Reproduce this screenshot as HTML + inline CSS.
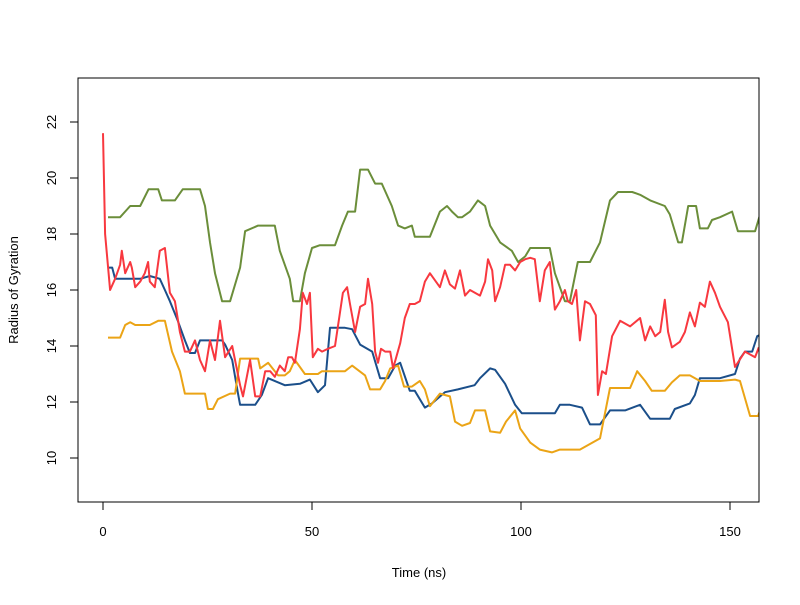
<!DOCTYPE html>
<html><head><meta charset="utf-8"><style>
body{margin:0;background:#fff}
svg text{font-family:"Liberation Sans",sans-serif;font-size:13px;fill:#000}
</style></head><body>
<svg id="chart" width="800" height="600" xmlns="http://www.w3.org/2000/svg">
<rect width="800" height="600" fill="#fff"/>
<g id="plot"></g>
</svg>
<script>
const xTicks=[0,50,100,150];
const yTicks=[10,12,14,16,18,20,22];
const greenSeries=[[1.2,18.6],[4.1,18.6],[6.5,19.0],[8.9,19.0],[10.9,19.6],[13.2,19.6],[14.1,19.2],[17.2,19.2],[19.1,19.6],[23.2,19.6],[24.4,19.0],[25.6,17.7],[26.8,16.6],[28.5,15.6],[30.4,15.6],[32.8,16.8],[34.0,18.1],[37.1,18.3],[41.1,18.3],[42.3,17.4],[44.7,16.4],[45.5,15.6],[47.1,15.6],[48.3,16.6],[50.0,17.5],[51.9,17.6],[55.5,17.6],[57.2,18.3],[58.6,18.8],[60.3,18.8],[61.5,20.3],[63.4,20.3],[65.1,19.8],[66.7,19.8],[69.1,19.0],[70.6,18.3],[72.2,18.2],[73.9,18.3],[74.6,17.9],[78.2,17.9],[80.6,18.8],[82.3,19.0],[83.5,18.8],[84.9,18.6],[85.9,18.6],[87.8,18.8],[89.7,19.2],[91.4,19.0],[92.6,18.3],[95.0,17.7],[97.8,17.4],[99.3,17.0],[101.0,17.2],[102.2,17.5],[106.9,17.5],[108.1,16.6],[110.5,15.6],[111.7,15.6],[113.6,17.0],[116.5,17.0],[118.9,17.7],[121.3,19.2],[123.2,19.5],[126.6,19.5],[128.5,19.4],[130.9,19.2],[134.4,19.0],[135.6,18.7],[137.6,17.7],[138.5,17.7],[140.0,19.0],[141.9,19.0],[142.8,18.2],[144.7,18.2],[145.7,18.5],[147.6,18.6],[150.5,18.8],[151.9,18.1],[156.0,18.1],[157.2,18.7]];
const blueSeries=[[1.2,16.8],[2.2,16.8],[2.9,16.4],[8.9,16.4],[11.2,16.5],[13.6,16.4],[14.8,16.0],[16.0,15.6],[17.9,14.9],[19.6,14.2],[20.8,13.75],[22.0,13.75],[23.2,14.2],[28.5,14.2],[29.2,14.05],[30.9,13.5],[32.3,12.3],[32.8,11.9],[36.4,11.9],[38.0,12.25],[39.5,12.85],[43.5,12.6],[47.1,12.65],[49.5,12.8],[51.4,12.35],[53.1,12.6],[54.3,14.65],[57.9,14.65],[59.6,14.6],[61.5,14.05],[64.4,13.8],[66.3,12.85],[68.2,12.85],[69.9,13.3],[71.1,13.4],[73.4,12.4],[74.6,12.4],[77.0,11.8],[78.7,11.95],[81.8,12.35],[84.9,12.45],[88.9,12.6],[90.2,12.85],[92.6,13.2],[93.8,13.15],[96.2,12.65],[98.6,11.9],[100.2,11.6],[104.5,11.6],[108.1,11.6],[109.3,11.9],[111.7,11.9],[114.6,11.8],[116.5,11.2],[118.9,11.2],[121.3,11.7],[124.9,11.7],[128.5,11.9],[130.9,11.4],[135.6,11.4],[136.8,11.75],[140.4,11.95],[141.6,12.25],[142.8,12.85],[147.6,12.85],[151.2,13.0],[152.4,13.55],[153.6,13.8],[155.3,13.8],[156.5,14.35],[157.2,14.4]];
const orangeSeries=[[1.2,14.3],[4.1,14.3],[5.3,14.75],[6.5,14.85],[7.7,14.75],[11.2,14.75],[13.2,14.9],[14.8,14.9],[16.5,13.8],[18.4,13.1],[19.6,12.3],[24.4,12.3],[25.1,11.75],[26.3,11.75],[27.5,12.1],[30.4,12.3],[31.6,12.3],[32.8,13.55],[37.1,13.55],[37.6,13.2],[39.5,13.4],[41.9,12.95],[43.5,12.95],[44.7,13.1],[45.9,13.5],[48.3,13.0],[51.4,13.0],[52.4,13.1],[57.9,13.1],[59.6,13.3],[62.7,12.95],[63.9,12.45],[66.3,12.45],[67.5,12.75],[68.7,13.2],[70.6,13.3],[72.0,12.55],[73.9,12.55],[75.8,12.75],[77.0,12.45],[78.2,11.85],[80.6,12.3],[83.0,12.2],[84.2,11.3],[85.9,11.15],[87.8,11.25],[89.0,11.7],[91.4,11.7],[92.6,10.95],[95.0,10.9],[96.4,11.3],[98.6,11.7],[99.8,11.05],[102.2,10.55],[104.5,10.3],[107.4,10.2],[109.3,10.3],[114.1,10.3],[118.9,10.7],[121.3,12.5],[126.1,12.5],[127.8,13.1],[129.7,12.75],[131.3,12.4],[134.4,12.4],[136.1,12.7],[138.0,12.95],[140.4,12.95],[142.8,12.75],[147.6,12.75],[151.2,12.8],[152.4,12.75],[154.8,11.5],[156.7,11.5],[157.2,11.7]];
const redSeries=[[0,21.6],[0.5,18.0],[1.7,16.0],[2.9,16.4],[4.1,16.9],[4.5,17.4],[5.3,16.6],[6.5,17.0],[6.9,16.8],[7.7,16.1],[8.9,16.3],[10.0,16.6],[10.8,17.0],[11.2,16.3],[12.4,16.1],[13.6,17.4],[14.8,17.5],[16.0,15.9],[17.2,15.6],[18.4,14.5],[19.6,13.8],[20.8,13.8],[22.0,14.2],[23.2,13.5],[24.4,13.1],[25.6,14.2],[26.8,13.5],[28.0,14.9],[29.2,13.6],[30.9,14.0],[32.8,12.6],[33.5,12.2],[35.2,13.5],[36.4,12.2],[37.6,12.2],[38.8,13.1],[40.0,13.1],[41.1,12.9],[42.3,13.3],[43.5,13.1],[44.3,13.6],[45.2,13.6],[45.9,13.4],[47.1,14.6],[47.8,15.9],[48.8,15.5],[49.5,15.9],[50.2,13.6],[51.4,13.9],[52.4,13.8],[53.8,13.9],[55.5,14.0],[56.7,15.2],[57.4,15.9],[58.4,16.1],[59.1,15.5],[60.3,14.5],[61.5,15.4],[62.7,15.5],[63.4,16.4],[64.4,15.5],[65.1,13.8],[65.8,13.4],[66.5,13.9],[67.5,13.8],[68.7,13.8],[69.4,13.2],[71.1,14.1],[72.2,15.0],[73.4,15.5],[74.6,15.5],[75.8,15.6],[77.0,16.3],[78.2,16.6],[80.6,16.1],[81.8,16.7],[83.0,16.2],[84.2,16.05],[85.4,16.7],[86.6,15.8],[87.8,16.0],[90.2,15.8],[91.4,16.3],[92.1,17.1],[93.1,16.7],[93.8,15.6],[95.0,16.1],[96.2,16.9],[97.4,16.9],[98.6,16.7],[99.8,17.0],[101.0,17.1],[102.2,17.15],[103.3,17.1],[104.5,15.6],[105.7,16.7],[106.9,17.0],[108.1,15.3],[109.3,15.6],[110.5,16.0],[111.2,15.6],[112.2,15.5],[113.2,16.0],[114.1,14.2],[115.3,15.6],[116.5,15.5],[117.9,15.1],[118.4,12.25],[119.4,13.1],[120.3,13.0],[121.8,14.35],[123.7,14.9],[126.1,14.7],[128.5,15.0],[129.7,14.2],[130.9,14.7],[132.1,14.35],[133.3,14.5],[134.4,15.65],[135.2,14.5],[136.1,13.95],[138.0,14.15],[139.2,14.5],[140.4,15.2],[141.6,14.7],[142.8,15.55],[144.0,15.4],[145.2,16.3],[146.4,15.9],[147.6,15.4],[149.5,14.85],[151.2,13.25],[153.6,13.8],[156.0,13.6],[156.9,13.95]];

const L=78,R=759,T=78,B=502;
const x=t=>103+t*4.18;
const y=v=>122+(22-v)*28;
const NS="http://www.w3.org/2000/svg";
const g=document.getElementById('plot');
function mk(tag,attrs){const e=document.createElementNS(NS,tag);for(const k in attrs)e.setAttribute(k,attrs[k]);g.appendChild(e);return e;}

const clip=document.createElementNS(NS,'clipPath');clip.setAttribute('id','cp');
const cr=document.createElementNS(NS,'rect');cr.setAttribute('x',L);cr.setAttribute('y',T);cr.setAttribute('width',R-L);cr.setAttribute('height',B-T);
clip.appendChild(cr);g.appendChild(clip);

const series=[[greenSeries,'#6B8E3A','green-series-line'],[blueSeries,'#1B4F8A','blue-series-line'],[orangeSeries,'#EBA416','orange-series-line'],[redSeries,'#F8383F','red-series-line']];
series.forEach(([d,c,n])=>{
  const p=mk('polyline',{points:d.map(q=>x(q[0]).toFixed(1)+','+y(q[1]).toFixed(1)).join(' '),fill:'none',stroke:c,'stroke-width':2,'stroke-linejoin':'round','clip-path':'url(#cp)'});
  
  
});

const box=mk('rect',{x:L,y:T,width:R-L,height:B-T,fill:'none',stroke:'#000','stroke-width':1});



const xa=mk('line',{x1:x(xTicks[0]),x2:x(xTicks[xTicks.length-1]),y1:B,y2:B,stroke:'#000'});


xTicks.forEach(t=>{
  const tk=mk('line',{x1:x(t),x2:x(t),y1:B,y2:B+8,stroke:'#000'});
  
  
  const tx=mk('text',{x:x(t),y:536,'text-anchor':'middle'});tx.textContent=t;
  
  
});
const ya=mk('line',{x1:L,x2:L,y1:y(yTicks[0]),y2:y(yTicks[yTicks.length-1]),stroke:'#000'});


yTicks.forEach(v=>{
  const tk=mk('line',{x1:L-8,x2:L,y1:y(v),y2:y(v),stroke:'#000'});
  
  
  const tx=mk('text',{x:0,y:0,'text-anchor':'middle',transform:`translate(56,${y(v)}) rotate(-90)`});tx.textContent=v;
  
  
});
const xt=mk('text',{x:419,y:577,'text-anchor':'middle'});xt.textContent='Time (ns)';


const yt=mk('text',{x:0,y:0,'text-anchor':'middle',transform:'translate(18,290) rotate(-90)'});yt.textContent='Radius of Gyration';


</script>
</body></html>
